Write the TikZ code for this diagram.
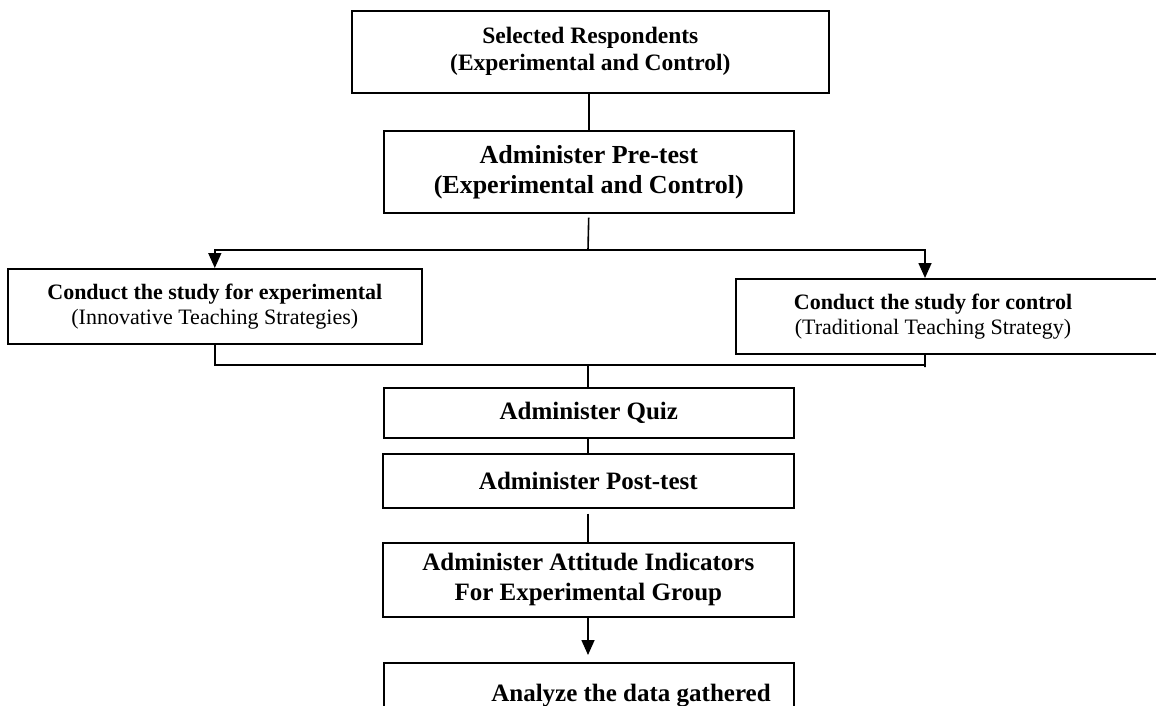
\documentclass[tikz,border=0pt]{standalone}
\usepackage{fontspec}
\setmainfont{Liberation Serif}
\usetikzlibrary{arrows.meta,calc}
\tikzset{
  box/.style={draw, line width=1.6pt, inner sep=0pt, anchor=north west, align=center},
  conn/.style={line width=1.6pt},
  arr/.style={conn, -{Triangle[width=13pt,length=15pt]}},
  ftop/.style={font=\fontsize{23.5}{27}\selectfont\bfseries},
  fpre/.style={font=\fontsize{26}{30}\selectfont\bfseries},
  fmid/.style={font=\fontsize{25}{30}\selectfont\bfseries},
  fside/.style={font=\fontsize{22}{25}\selectfont},
}
\begin{document}
\begin{tikzpicture}[x=1pt,y=-1pt]
\useasboundingbox (0,0) rectangle (1156,705);
\clip (0,0) rectangle (1156,705);
% boxes
\node[box,ftop,minimum width=477pt,minimum height=82pt] (sel) at (351,10)
  {Selected Respondents\\(Experimental and Control)};
\node[box,fpre,minimum width=410pt,minimum height=82pt] (pre) at (383,130)
  {Administer Pre-test\\(Experimental and Control)};
\node[box,fside,minimum width=414pt,minimum height=75pt] (exp) at (7,268)
  {\textbf{Conduct the study for experimental}\\(Innovative Teaching Strategies)};
\node[box,minimum width=440pt,minimum height=75pt] (ctl) at (735,278) {};
\node[fside,align=center,inner sep=0pt] (ctltext) at (933,317)
  {\textbf{Conduct the study for control}\\(Traditional Teaching Strategy)};
\node[box,fmid,minimum width=410pt,minimum height=50pt] (quiz) at (383,387)
  {Administer Quiz};
\node[box,fmid,minimum width=411pt,minimum height=54pt] (post) at (382,453)
  {Administer Post-test};
\node[box,fmid,minimum width=411pt,minimum height=74pt] (att) at (382,542)
  {Administer Attitude Indicators\\For Experimental Group};
\node[box,minimum width=410pt,minimum height=80pt] (ana) at (383,662) {};
\node[fmid,inner sep=0pt,anchor=base] (anatext) at (631,701) {Analyze the data gathered};
% coordinates
\coordinate (fork) at (588,250);
\coordinate (join) at (588,365);
\coordinate (ctltop) at (925,278);
\coordinate (ctlbot) at (925,353);
% connectors
\draw[conn] (sel.south -| pre.north) -- (pre.north);
\draw[conn,shorten <=4pt] (pre.south) -- (fork);
\draw[arr] (fork) -| (exp.north);
\draw[arr] (fork) -| (ctltop);
\draw[conn] (exp.south) |- (join);
\draw[conn] (ctlbot) -- ++(0,14) |- (join);
\draw[conn] (join) -- (quiz.north -| join);
\draw[conn] (quiz.south -| join) -- (post.north -| join);
\draw[conn,shorten <=5pt] (post.south -| join) -- (att.north -| join);
\draw[arr,shorten >=7pt] (att.south -| join) -- (ana.north -| join);
\end{tikzpicture}
\end{document}
